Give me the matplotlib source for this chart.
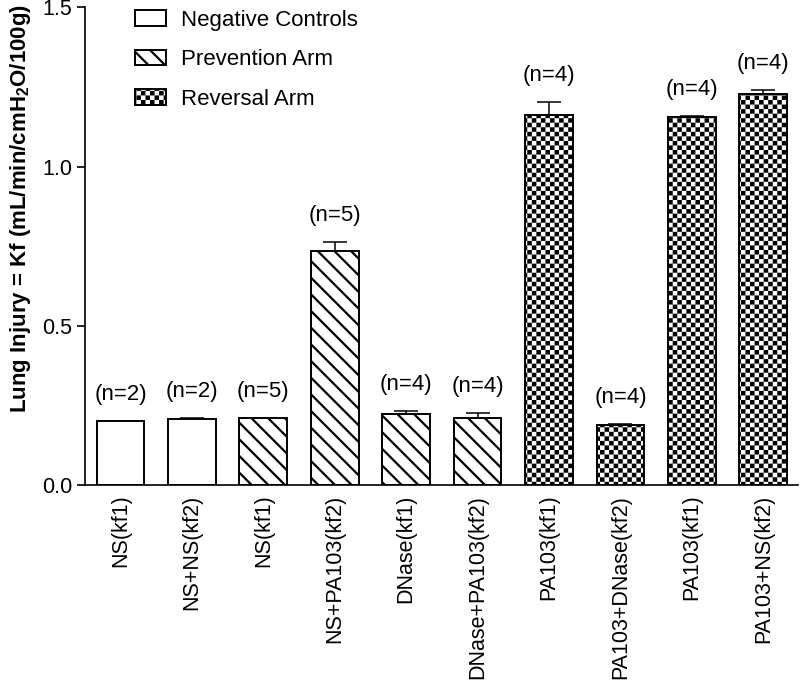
import warnings
import numpy as np
import matplotlib
matplotlib.use("Agg")
import matplotlib.pyplot as plt
from matplotlib import hatch as mhatch
from matplotlib.path import Path

warnings.filterwarnings("ignore")

# ----------------------------------------------------------
# DATA
# ----------------------------------------------------------
categorias = ["NS(kf1)", "NS+NS(kf2)", "NS(kf1)", "NS+PA103(kf2)",
              "DNase(kf1)", "DNase+PA103(kf2)", "PA103(kf1)",
              "PA103+DNase(kf2)", "PA103(kf1)", "PA103+NS(kf2)"]
medias = [0.200, 0.206, 0.209, 0.735, 0.223, 0.209, 1.162, 0.188, 1.155, 1.228]
errores = [0.000, 0.004, 0.003, 0.028, 0.010, 0.018, 0.040, 0.005, 0.004, 0.012]
n_grupo = [2, 2, 5, 5, 4, 4, 4, 4, 4, 4]
grupos = ["Negative Controls", "Negative Controls",
          "Prevention Arm", "Prevention Arm", "Prevention Arm", "Prevention Arm",
          "Reversal Arm", "Reversal Arm", "Reversal Arm", "Reversal Arm"]

# ----------------------------------------------------------
# STYLE
# ----------------------------------------------------------
plt.rcParams["font.family"] = ["Liberation Sans", "DejaVu Sans"]
plt.rcParams["mathtext.fontset"] = "custom"
plt.rcParams["mathtext.rm"] = "Liberation Sans"
plt.rcParams["mathtext.bf"] = "Liberation Sans:bold"
plt.rcParams["mathtext.default"] = "bf"
plt.rcParams["hatch.linewidth"] = 1.6
plt.rcParams["hatch.color"] = "black"

DPI = 100
HATCH_LW_PX = plt.rcParams["hatch.linewidth"] * DPI / 72.0


class CheckerHatch(mhatch.HatchPatternBase):
    """Checkerboard hatch, triggered by the 'c' character."""
    CELLS = 22

    def __init__(self, hatch, density):
        self.activo = "c" in hatch
        n = self.CELLS
        self.cuadros = [(i, j) for i in range(n) for j in range(n) if (i + j) % 2 == 0]
        self.num_vertices = len(self.cuadros) * 5 if self.activo else 0

    def set_vertices_and_codes(self, vertices, codes):
        n = self.CELLS
        d = (HATCH_LW_PX / 2.0) / DPI
        k = 0
        for i, j in self.cuadros:
            x0, y0 = i / n + d, j / n + d
            x1, y1 = (i + 1) / n - d, (j + 1) / n - d
            vertices[k:k + 5] = [(x0, y0), (x1, y0), (x1, y1), (x0, y1), (x0, y0)]
            codes[k:k + 5] = [Path.MOVETO, Path.LINETO, Path.LINETO, Path.LINETO, Path.CLOSEPOLY]
            k += 5


mhatch._hatch_types.append(CheckerHatch)

ESTILOS = {
    "Negative Controls": None,
    "Prevention Arm": "\\\\",
    "Reversal Arm": "c",
}

# ----------------------------------------------------------
# FIGURE
# ----------------------------------------------------------
fig = plt.figure(figsize=(8.0, 6.86), dpi=DPI)
ax = fig.add_axes([0.10625, 0.2930, 0.89125, 0.6961])

x = np.arange(len(categorias))
for grupo, hatch in ESTILOS.items():
    idx = [i for i, g in enumerate(grupos) if g == grupo]
    ax.bar(x[idx], [medias[i] for i in idx], width=0.668,
           color="white", edgecolor="black", linewidth=1.4,
           hatch=hatch, label=grupo, zorder=2)

ax.errorbar(x, medias, yerr=[np.zeros(len(medias)), errores],
            fmt="none", ecolor="black", elinewidth=1.1,
            capsize=8.3, capthick=1.1, zorder=1)

for xi, m, e, n in zip(x, medias, errores, n_grupo):
    ax.annotate(f"(n={n})", xy=(xi, m + e), xytext=(0, 19),
                textcoords="offset points", ha="center", va="center",
                fontsize=16)

ax.set_xlim(-0.497, 9.486)
ax.set_ylim(0, 1.5)
ax.set_yticks([0.0, 0.5, 1.0, 1.5])
ax.set_yticklabels(["0.0", "0.5", "1.0", "1.5"])
ax.set_xticks(x)
ax.set_xticklabels(categorias, rotation=90, va="top", ha="center")
ax.tick_params(axis="x", length=0, pad=7, labelsize=15.5)
ax.tick_params(axis="y", length=6, width=1.2, pad=3, labelsize=15.5)

for lado in ["top", "right"]:
    ax.spines[lado].set_visible(False)
for lado in ["left", "bottom"]:
    ax.spines[lado].set_linewidth(1.2)

ax.set_ylabel("Lung Injury = Kf (mL/min/cmH$_2$O/100g)",
              fontsize=16, fontweight="bold")
ax.yaxis.set_label_coords(-0.073, 0.578)

ax.legend(loc="upper left", bbox_to_anchor=(0.070, 0.995), frameon=False,
          fontsize=16, borderpad=0, borderaxespad=0, handlelength=1.4,
          handleheight=0.72, handletextpad=0.68, labelspacing=0.83)

fig.savefig("out.png", dpi=DPI)
